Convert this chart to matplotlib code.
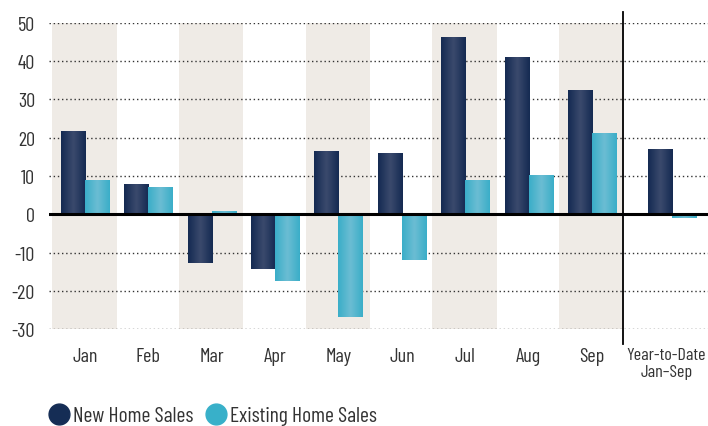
import numpy as np
import matplotlib
matplotlib.use("Agg")
import matplotlib.pyplot as plt
from matplotlib.lines import Line2D
from matplotlib.colors import LinearSegmentedColormap
from matplotlib.transforms import ScaledTranslation

categories = ["Jan", "Feb", "Mar", "Apr", "May", "Jun", "Jul", "Aug", "Sep", "Year-to-Date\nJan\u2013Sep"]
new_home = [21.7, 7.9, -12.7, -14.3, 16.5, 16.0, 46.3, 41.1, 32.5, 17.0]
existing_home = [8.9, 7.1, 0.8, -17.5, -26.9, -12.0, 8.9, 10.2, 21.2, -1.0]
yticks = [-30, -20, -10, 0, 10, 20, 30, 40, 50]

plt.rcParams['font.family'] = ['Barlow Condensed', 'Roboto Condensed', 'DejaVu Sans']

fig = plt.figure(figsize=(7.08, 4.27), dpi=100)
ax = fig.add_axes([0.069, 0.227, 0.931, 0.717])

x = np.array([0, 1, 2, 3, 4, 5, 6, 7, 8, 9.26])
w = 0.38
ax.set_xlim(-0.57, 9.83)
ax.set_ylim(-30, 50)

# shaded bands
for i in [0, 2, 4, 6, 8]:
    ax.axvspan(i - 0.52, i + 0.5, color="#efebe6", zorder=0, lw=0)

# dotted grid
for t in yticks:
    if t != 0:
        ax.axhline(t, color="#333333", lw=1.0, ls=(0, (1, 2)), zorder=1)

def grad_bars(xs, vals, c_edge, c_mid):
    cmap = LinearSegmentedColormap.from_list("g", [c_edge, c_mid, c_edge])
    bars = ax.bar(xs, vals, width=w, color=c_edge, zorder=2, lw=0)
    grad = np.linspace(0, 1, 64).reshape(1, -1)
    for b in bars:
        bx, by = b.get_x(), b.get_y()
        bw, bh = b.get_width(), b.get_height()
        im = ax.imshow(grad, cmap=cmap, aspect="auto",
                       extent=[bx, bx + bw, by, by + bh], zorder=3,
                       interpolation="bicubic")
        im.set_clip_path(b)
    return bars

grad_bars(x - w / 2, new_home, "#142a52", "#3b4a6d")
grad_bars(x + w / 2, existing_home, "#3aaec8", "#6cbdd3")

ax.axhline(0, color="black", lw=2.2, zorder=4)

# separator line
sep = (8 + 9.26) / 2 - 0.14
ax.plot([sep, sep], [-0.05, 1.035], transform=ax.get_xaxis_transform(),
        color="black", lw=1.3, clip_on=False, zorder=5)

for s in ax.spines.values():
    s.set_visible(False)
ax.set_yticks(yticks)
ax.set_yticklabels([str(t) for t in yticks], fontsize=14.5, color="#333333")
ax.set_xticks(x)
ax.set_xticklabels(categories, fontsize=14.5, color="#333333", linespacing=1.15)
ax.tick_params(axis="both", length=0)
ax.tick_params(axis="x", pad=13)
ax.tick_params(axis="y", pad=10)
last = ax.get_xticklabels()[-1]
last.set_fontsize(13)
last.set_transform(last.get_transform() + ScaledTranslation(-4 / 72, 0, fig.dpi_scale_trans))

handles = [Line2D([], [], marker="o", ls="", markersize=15, color="#152d55"),
           Line2D([], [], marker="o", ls="", markersize=15, color="#38b0c9")]
fig.legend(handles, ["New Home Sales", "Existing Home Sales"], loc="lower left",
           bbox_to_anchor=(0.036, -0.044), ncol=2, frameon=False, fontsize=15.5,
           handlelength=1.3, handletextpad=0.0, columnspacing=0.4,
           labelcolor="#333333")

fig.savefig("out.png", dpi=100)
